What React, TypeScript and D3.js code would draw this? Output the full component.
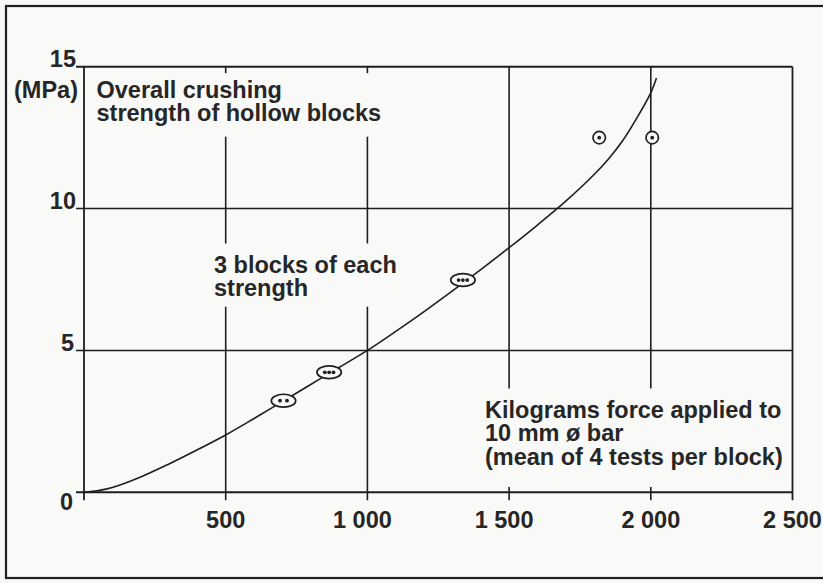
import React from "react";
import * as d3 from "d3";

const W = 823;
const H = 583;

// Axis definitions
const xTickValues = [0, 500, 1000, 1500, 2000, 2500];
const xTickLabels = ["", "500", "1 000", "1 500", "2 000", "2 500"];
const yTickValues = [0, 5, 10, 15];
const yTickLabels = ["0", "5", "10", "15"];

// Fitted curve (kgf vs MPa)
const curveX = [0, 50, 100, 200, 300, 400, 500, 600, 700, 800, 900, 1000, 1100, 1200, 1300, 1400, 1500, 1600, 1700, 1800, 1850, 1900, 1950, 2000, 2020];
const curveY = [0, 0.06, 0.17, 0.54, 1.0, 1.5, 2.02, 2.6, 3.2, 3.8, 4.4, 5.0, 5.67, 6.37, 7.1, 7.85, 8.62, 9.42, 10.26, 11.2, 11.74, 12.38, 13.18, 14.08, 14.6];

// Observed points (number of blocks grouped in each mark)
const pointX = [704, 865, 1337, 1818, 2005];
const pointY = [3.23, 4.23, 7.48, 12.5, 12.5];
const pointCount = [2, 3, 3, 1, 1];

// Annotation blocks
const titleLines = ["Overall crushing", "strength of hollow blocks"];
const blocksLines = ["3 blocks of each", "strength"];
const xTitleLines = ["Kilograms force applied to", "10 mm ø bar", "(mean of 4 tests per block)"];

const FONT = "'Liberation Sans', Arial, Helvetica, sans-serif";
const INK = "#1e1e1e";
const BG = "#f9f9f7";

export default function App() {
  const x = d3.scaleLinear().domain([0, 2500]).range([84, 792.5]);
  const y = d3.scaleLinear().domain([0, 15]).range([492.3, 66.7]);

  const pts: [number, number][] = curveX.map((v, i) => [v, curveY[i]]);
  const line = d3
    .line<[number, number]>()
    .x((d) => x(d[0]))
    .y((d) => y(d[1]))
    .curve(d3.curveCatmullRom.alpha(0.5));

  const yTop = y(15);
  const yBot = y(0);
  const tickLen = 8;

  // vertical segments per x tick (pixel ranges; gaps leave room for text)
  const vSegments = (v: number): [number, number][] => {
    if (v === 0 || v === 2500) return [[yTop, yBot + tickLen]];
    if (v === 500 || v === 1000)
      return [
        [yTop, yTop + 6.5],
        [136.7, 243.5],
        [306.7, yBot + tickLen],
      ];
    return [
      [yTop, 388.5],
      [487, yBot + tickLen],
    ];
  };

  const textStyle = {
    fontFamily: FONT,
    fontWeight: 700,
    fontSize: 23.5,
    fill: "#262626",
  } as React.CSSProperties;

  const block = (lines: string[], x0: number, y0: number, lh: number) => (
    <text x={x0} y={y0} style={textStyle}>
      {lines.map((s, i) => (
        <tspan key={i} x={x0} dy={i === 0 ? 0 : lh}>
          {s}
        </tspan>
      ))}
    </text>
  );

  return (
    <svg
      width={W}
      height={H}
      viewBox={`0 0 ${W} ${H}`}
      style={{ position: "absolute", left: 0, top: 0, background: BG }}
    >
      <rect x={0} y={0} width={W} height={H} fill={BG} />
      {/* outer frame */}
      <rect x={6} y={6} width={840} height={572} fill="none" stroke={INK} strokeWidth={2.2} />

      {/* horizontal grid lines */}
      {yTickValues.map((v) => (
        <line
          key={"h" + v}
          x1={x(0) - tickLen}
          x2={x(2500)}
          y1={y(v)}
          y2={y(v)}
          stroke={INK}
          strokeWidth={v === 0 || v === 15 ? 2 : 1.6}
        />
      ))}

      {/* vertical grid lines */}
      {xTickValues.map((v) =>
        vSegments(v).map((s, j) => (
          <line
            key={"v" + v + "_" + j}
            x1={x(v)}
            x2={x(v)}
            y1={s[0]}
            y2={s[1]}
            stroke={INK}
            strokeWidth={v === 0 || v === 2500 ? 1.8 : 1.6}
          />
        ))
      )}

      {/* y tick labels */}
      {yTickValues.map((v, i) => (
        <text
          key={"yl" + v}
          x={v === 0 ? 73 : v === 5 ? 74 : 76}
          y={v === 0 ? y(v) + 18 : y(v) + 0.5}
          textAnchor="end"
          style={textStyle}
        >
          {yTickLabels[i]}
        </text>
      ))}
      <text x={78} y={97.5} textAnchor="end" style={textStyle}>
        (MPa)
      </text>

      {/* x tick labels */}
      {xTickValues.map((v, i) => (
        <text
          key={"xl" + v}
          x={x(v) + (xTickLabels[i].startsWith("1") ? -5 : 0)}
          y={528}
          textAnchor="middle"
          style={textStyle}
        >
          {xTickLabels[i]}
        </text>
      ))}

      {/* curve */}
      <path d={line(pts) || ""} fill="none" stroke={INK} strokeWidth={1.6} />

      {/* observed points */}
      {pointX.map((px, i) => {
        const cx = x(px);
        const cy = y(pointY[i]);
        const n = pointCount[i];
        const gap = n === 2 ? 7 : 4.3;
        const dots = d3.range(n).map((k) => cx + (k - (n - 1) / 2) * gap);
        return (
          <g key={"p" + i}>
            {n === 1 ? (
              <circle cx={cx} cy={cy} r={6.2} fill={BG} stroke={INK} strokeWidth={1.7} />
            ) : (
              <ellipse cx={cx} cy={cy} rx={12.2} ry={6.4} fill={BG} stroke={INK} strokeWidth={1.7} />
            )}
            {dots.map((dx, k) => (
              <circle key={k} cx={dx} cy={cy} r={1.9} fill={INK} />
            ))}
          </g>
        );
      })}

      {/* annotations */}
      {block(titleLines, 96.5, 97.5, 23)}
      {block(blocksLines, 214, 273.3, 22.2)}
      {block(xTitleLines, 485, 417.5, 23.5)}
    </svg>
  );
}
